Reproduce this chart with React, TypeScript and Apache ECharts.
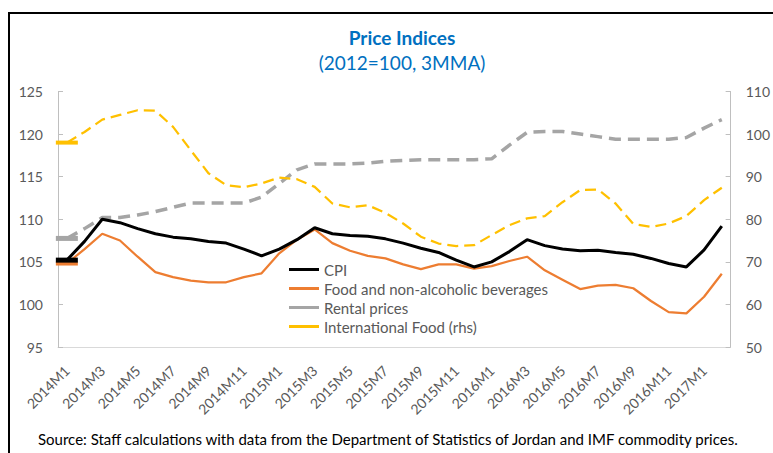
import React, { useEffect, useRef } from "react";
import * as echarts from "echarts";

const categories: string[] = [
  "2014M1", "2014M2", "2014M3", "2014M4", "2014M5", "2014M6", "2014M7", "2014M8", "2014M9", "2014M10", "2014M11", "2014M12",
  "2015M1", "2015M2", "2015M3", "2015M4", "2015M5", "2015M6", "2015M7", "2015M8", "2015M9", "2015M10", "2015M11", "2015M12",
  "2016M1", "2016M2", "2016M3", "2016M4", "2016M5", "2016M6", "2016M7", "2016M8", "2016M9", "2016M10", "2016M11", "2016M12",
  "2017M1", "2017M2",
];

const cpi: number[] = [
  105.2, 107.4, 110.0, 109.6, 108.9, 108.3, 107.9, 107.7, 107.4, 107.2,
  106.5, 105.7, 106.5, 107.6, 109.0, 108.3, 108.1, 108.0, 107.7,
  107.2, 106.6, 106.1, 105.2, 104.4, 105.0, 106.2, 107.6, 106.9, 106.5,
  106.3, 106.35, 106.1, 105.9, 105.4, 104.8, 104.4, 106.4, 109.2,
];

const food: number[] = [
  104.8, 106.5, 108.3, 107.5, 105.6, 103.8, 103.2, 102.8, 102.6, 102.6,
  103.2, 103.65, 106.0, 107.6, 108.8, 107.2, 106.3, 105.7, 105.4,
  104.7, 104.15, 104.7, 104.7, 104.2, 104.5, 105.1, 105.6, 104.0, 102.9,
  101.8, 102.2, 102.3, 101.9, 100.4, 99.1, 98.95, 100.9, 103.6,
];

const rental: number[] = [
  107.75, 108.9, 110.2, 110.2, 110.5, 110.9, 111.4, 111.9, 111.9, 111.9,
  111.9, 112.6, 114.2, 115.8, 116.5, 116.5, 116.5, 116.6, 116.8,
  116.9, 117.0, 117.0, 117.0, 117.0, 117.1, 118.7, 120.2, 120.3, 120.3,
  120.0, 119.7, 119.4, 119.4, 119.4, 119.4, 119.6, 120.7, 121.7,
];

const intlFood: number[] = [
  98.0, 100.5, 103.4, 104.5, 105.6, 105.5, 101.7, 96.2, 90.8, 88.0,
  87.5, 88.4, 89.8, 89.4, 87.6, 83.7, 82.8, 83.3, 81.5,
  79.0, 75.9, 74.3, 73.7, 73.9, 76.3, 78.6, 80.2, 80.75, 84.0,
  86.85, 87.0, 83.7, 78.9, 78.2, 79.0, 80.75, 84.5, 87.4,
];

const seriesNames = [
  "CPI",
  "Food and non-alcoholic beverages",
  "Rental prices",
  "International Food (rhs)",
];

const FONT = "Lato";
const TEXT_GRAY = "#595959";
const AXIS_GRAY = "#BFBFBF";

function withFirstMarker(values: number[], w: number, h: number, color: string) {
  return values.map((v, i) =>
    i === 0
      ? { value: v, symbol: "rect", symbolSize: [w, h], itemStyle: { color, borderWidth: 0 } }
      : v
  );
}

export default function App() {
  const ref = useRef<HTMLDivElement>(null);

  useEffect(() => {
    if (!ref.current) return;
    const chart = echarts.init(ref.current, undefined, { renderer: "svg" });
    const option: any = {
      animation: false,
      backgroundColor: "#ffffff",
      textStyle: { fontFamily: FONT },
      title: [
        {
          text: "Price Indices",
          left: 397,
          top: 23,
          textAlign: "center",
          textStyle: { fontFamily: FONT, fontSize: 19, fontWeight: "bold", color: "#0070C0" },
        },
        {
          text: "(2012=100, 3MMA)",
          left: 397,
          top: 48,
          textAlign: "center",
          textStyle: { fontFamily: FONT, fontSize: 19, fontWeight: "normal", color: "#0070C0" },
        },
        {
          text: "Source: Staff calculations with data from the Department of Statistics of Jordan and IMF commodity prices.",
          left: 33,
          top: 426,
          textStyle: { fontFamily: FONT, fontSize: 15, fontWeight: "normal", color: "#000000" },
        },
      ],
      graphic: [
        {
          type: "rect",
          shape: { x: 9, y: 13, width: 900, height: 600 },
          style: { fill: "none", stroke: "#000000", lineWidth: 2 },
          silent: true,
        },
      ],
      legend: {
        orient: "vertical",
        left: 284,
        top: 257,
        icon: "rect",
        itemWidth: 30,
        itemHeight: 3,
        itemGap: 4,
        textStyle: { fontFamily: FONT, fontSize: 15, color: TEXT_GRAY },
        data: seriesNames,
      },
      grid: { left: 58, right: 36, top: 91.5, bottom: 106, containLabel: false },
      xAxis: {
        type: "category",
        data: categories,
        boundaryGap: true,
        axisLine: { show: true, lineStyle: { color: "#D9D9D9", width: 1 } },
        axisTick: { show: false },
        axisLabel: {
          interval: 1,
          rotate: 45,
          margin: 21,
          fontFamily: FONT,
          fontSize: 14,
          color: TEXT_GRAY,
        },
        splitLine: { show: false },
      },
      yAxis: [
        {
          type: "value",
          min: 95,
          max: 125,
          interval: 5,
          position: "left",
          axisLine: { show: true, lineStyle: { color: AXIS_GRAY, width: 1 } },
          axisTick: { show: true, inside: true, length: 5, lineStyle: { color: AXIS_GRAY } },
          axisLabel: { margin: 15, fontFamily: FONT, fontSize: 14, color: TEXT_GRAY },
          splitLine: { show: false },
        },
        {
          type: "value",
          min: 50,
          max: 110,
          interval: 10,
          position: "right",
          axisLine: { show: true, lineStyle: { color: AXIS_GRAY, width: 1 } },
          axisTick: { show: true, inside: true, length: 5, lineStyle: { color: AXIS_GRAY } },
          axisLabel: { margin: 15, fontFamily: FONT, fontSize: 14, color: TEXT_GRAY },
          splitLine: { show: false },
        },
      ],
      series: [
        {
          name: seriesNames[2],
          type: "line",
          yAxisIndex: 0,
          data: withFirstMarker(rental, 22, 5, "#A5A5A5"),
          symbol: "none",
          color: "#A5A5A5",
          lineStyle: { color: "#A5A5A5", width: 3.5, type: [12, 7] },
          z: 2,
        },
        {
          name: seriesNames[3],
          type: "line",
          yAxisIndex: 1,
          data: withFirstMarker(intlFood, 22, 4, "#FFC000"),
          symbol: "none",
          color: "#FFC000",
          lineStyle: { color: "#FFC000", width: 2.25, type: [11, 6] },
          z: 2,
        },
        {
          name: seriesNames[1],
          type: "line",
          yAxisIndex: 0,
          data: withFirstMarker(food, 22, 4, "#ED7D31"),
          symbol: "none",
          color: "#ED7D31",
          lineStyle: { color: "#ED7D31", width: 2.25 },
          z: 3,
        },
        {
          name: seriesNames[0],
          type: "line",
          yAxisIndex: 0,
          data: withFirstMarker(cpi, 22, 5, "#000000"),
          symbol: "none",
          color: "#000000",
          lineStyle: { color: "#000000", width: 3 },
          z: 4,
        },
      ],
    };
    chart.setOption(option);
    return () => chart.dispose();
  }, []);

  return (
    <div
      ref={ref}
      style={{ position: "absolute", left: 0, top: 0, width: 773, height: 453 }}
    />
  );
}
